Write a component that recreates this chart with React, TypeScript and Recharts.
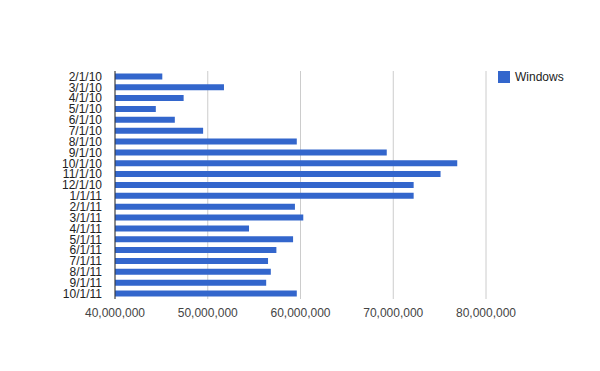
import { Bar, BarChart, CartesianGrid, XAxis, YAxis } from "recharts";

const DATES = [
	"2/1/10", "3/1/10", "4/1/10", "5/1/10", "6/1/10", "7/1/10", "8/1/10",
	"9/1/10", "10/1/10", "11/1/10", "12/1/10", "1/1/11", "2/1/11", "3/1/11",
	"4/1/11", "5/1/11", "6/1/11", "7/1/11", "8/1/11", "9/1/11", "10/1/11",
];

const WINDOWS = [
	45100000, 51750000, 47400000, 44400000, 46450000, 49500000, 59600000,
	69300000, 76900000, 75100000, 72200000, 72200000, 59400000, 60300000,
	54450000, 59200000, 57400000, 56500000, 56800000, 56300000, 59600000,
];

const X_TICKS = [40000000, 50000000, 60000000, 70000000, 80000000];

const FONT = "'Liberation Sans', Arial, sans-serif";

const data = DATES.map((date, i) => ({ date, Windows: WINDOWS[i] }));

export default function App() {
	return (
		<div style={{ position: "relative", width: 600, height: 371, background: "#fff" }}>
			<style>{"body{margin:0}"}</style>
			<BarChart
				width={600}
				height={371}
				data={data}
				layout="vertical"
				margin={{ top: 71, right: 114, bottom: 42, left: 0 }}
				barCategoryGap="22%"
			>
				<CartesianGrid horizontal={false} stroke="#cccccc" />
				<XAxis
					type="number"
					domain={[40000000, 80000000]}
					ticks={X_TICKS}
					tickFormatter={(v) => Number(v).toLocaleString("en-US")}
					axisLine={false}
					tickLine={false}
					tickMargin={3}
					height={30}
					tick={{ fontSize: 12, fill: "#444", fontFamily: FONT }}
					allowDataOverflow
				/>
				<YAxis
					type="category"
					dataKey="date"
					width={115}
					axisLine={{ stroke: "#333" }}
					tickLine={false}
					interval={0}
					tickMargin={7}
					tick={{ fontSize: 12, fill: "#222", fontFamily: FONT }}
				/>
				<Bar dataKey="Windows" fill="#3366cc" isAnimationActive={false} />
			</BarChart>
			{/* legend sits to the right of the plot, like the original */}
			<div
				style={{
					position: "absolute",
					top: 70,
					left: 498,
					display: "flex",
					alignItems: "center",
					fontFamily: FONT,
					fontSize: 12,
					color: "#222",
				}}
			>
				<span style={{ width: 12, height: 12, background: "#3366cc", marginRight: 5, display: "inline-block" }} />
				Windows
			</div>
		</div>
	);
}
